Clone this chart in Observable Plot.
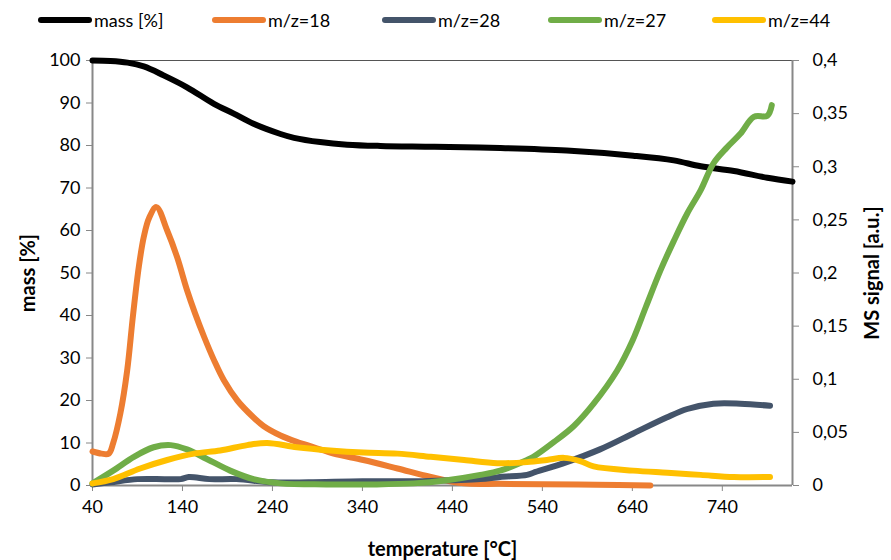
<!DOCTYPE html>
<html>
<head>
<meta charset="utf-8">
<script src="https://cdn.jsdelivr.net/npm/d3@7"></script>
<script src="https://cdn.jsdelivr.net/npm/@observablehq/plot@0.6"></script>
<style>
  body { margin: 0; background: #fff; font-family: Lato, "Open Sans", sans-serif; }
  #legend { height: 40px; display: flex; align-items: center; padding-left: 38px; font-size: 18px; color: #000; }
  #legend .item { display: flex; align-items: center; }
  #legend .sw { display: inline-block; width: 54px; height: 6px; border-radius: 3px; margin-right: 2px; }
  svg g[aria-label$="-axis label"] text { font-weight: bold; font-size: 20px; }
</style>
</head>
<body>
<div id="legend"></div>
<div id="chart"></div>
<script>
const seriesNames = ["mass [%]", "m/z=18", "m/z=28", "m/z=27", "m/z=44"];
const seriesColors = ["#000000", "#ED7D31", "#44546A", "#70AD47", "#FFC000"];

const xTicks = [40, 140, 240, 340, 440, 540, 640, 740];
const massTicks = [0, 10, 20, 30, 40, 50, 60, 70, 80, 90, 100];
const msTicks = [0, 0.05, 0.1, 0.15, 0.2, 0.25, 0.3, 0.35, 0.4];

// mass [%] (left axis)
const massT = [40, 60, 79, 97, 119, 145, 175, 197, 219, 249, 264, 293, 323, 360, 420, 493, 567, 641, 686, 716, 753, 790, 818];
const massV = [100, 99.9, 99.5, 98.6, 96.5, 93.7, 89.8, 87.5, 85.1, 82.7, 81.8, 80.8, 80.2, 79.9, 79.7, 79.4, 78.8, 77.6, 76.5, 75.1, 74.0, 72.4, 71.5];

// MS signals [a.u.] (right axis)
const mz18T = [40, 50, 58, 63, 71, 78.5, 85, 91.5, 97, 103, 111, 123, 134, 145, 154, 164, 175, 186, 201, 219, 230, 249, 267, 286, 308, 341, 379, 416, 453, 493, 540, 600, 660];
const mz18V = [0.032, 0.030, 0.030, 0.040, 0.068, 0.108, 0.160, 0.206, 0.234, 0.252, 0.262, 0.240, 0.215, 0.184, 0.162, 0.140, 0.118, 0.099, 0.080, 0.064, 0.056, 0.047, 0.041, 0.036, 0.030, 0.024, 0.016, 0.008, 0.002, 0.0016, 0.0012, 0.0008, 0];

const mz28T = [40, 60, 90, 120, 138, 147, 170, 200, 240, 280, 340, 400, 440, 471, 493, 523, 530, 567, 604, 641, 678, 701, 730, 760, 793];
const mz28V = [0.001, 0.003, 0.006, 0.006, 0.006, 0.008, 0.006, 0.006, 0.003, 0.003, 0.004, 0.004, 0.005, 0.006, 0.008, 0.010, 0.012, 0.022, 0.034, 0.049, 0.064, 0.072, 0.077, 0.077, 0.075];

const mz27T = [40, 63, 86, 108, 127, 145, 167, 193, 219, 249, 300, 350, 397, 434, 471, 493, 523, 530, 553, 575, 597, 623, 640, 655, 671, 686, 701, 716, 730, 745, 760, 775, 790, 795];
const mz27V = [0.002, 0.014, 0.027, 0.036, 0.038, 0.034, 0.025, 0.014, 0.006, 0.002, 0.001, 0.001, 0.002, 0.005, 0.010, 0.014, 0.024, 0.027, 0.041, 0.056, 0.077, 0.108, 0.136, 0.168, 0.202, 0.230, 0.256, 0.278, 0.303, 0.318, 0.331, 0.347, 0.348, 0.358];

const mz44T = [40, 63, 93, 123, 153, 182, 212, 234, 267, 304, 341, 379, 416, 453, 490, 523, 545, 564, 582, 597, 641, 679, 716, 753, 793];
const mz44V = [0.002, 0.006, 0.016, 0.024, 0.030, 0.033, 0.038, 0.040, 0.036, 0.033, 0.031, 0.030, 0.027, 0.024, 0.021, 0.022, 0.024, 0.026, 0.023, 0.018, 0.014, 0.012, 0.010, 0.008, 0.008];

const msFactor = 100 / 0.4; // right axis -> left axis units

const rows = [];
const add = (name, T, V, f) => T.forEach((t, i) => rows.push({series: name, t, v: V[i] * f}));
add(seriesNames[0], massT, massV, 1);
add(seriesNames[1], mz18T, mz18V, msFactor);
add(seriesNames[2], mz28T, mz28V, msFactor);
add(seriesNames[3], mz27T, mz27V, msFactor);
add(seriesNames[4], mz44T, mz44V, msFactor);

// legend
const legend = document.getElementById("legend");
const widths = [174, 170, 166, 164, 120];
seriesNames.forEach((n, i) => {
  const it = document.createElement("div");
  it.className = "item";
  it.style.width = widths[i] + "px";
  it.innerHTML = `<span class="sw" style="background:${seriesColors[i]}"></span><span>${n}</span>`;
  legend.appendChild(it);
});

const fmt = d => String(+(d / msFactor).toFixed(2)).replace(".", ",");

const lineMarks = seriesNames.map((n, i) =>
  Plot.line(rows.filter(r => r.series === n), {
    x: "t", y: "v", stroke: seriesColors[i], strokeWidth: 6,
    curve: "catmull-rom", strokeLinejoin: "round", strokeLinecap: "round"
  })
);

const chart = Plot.plot({
  width: 891,
  height: 520,
  marginTop: 20,
  marginBottom: 75,
  marginLeft: 92,
  marginRight: 99,
  x: {domain: [40, 818]},
  y: {domain: [0, 100]},
  style: {fontFamily: "Lato, 'Open Sans', sans-serif", fontSize: "18px", color: "#000", background: "#fff", overflow: "visible"},
  marks: [
    Plot.ruleY([100], {stroke: "#555", strokeWidth: 1}),
    Plot.ruleY([0], {stroke: "#888", strokeWidth: 2}),
    Plot.ruleX([40, 818], {stroke: "#888", strokeWidth: 2}),
    Plot.axisX({ticks: xTicks, tickSize: 6, tickPadding: 9, stroke: "#888", tickFormat: d => String(d),
      label: "temperature [°C]", labelAnchor: "center", labelOffset: 70, labelArrow: "none"}),
    Plot.axisY({ticks: massTicks, tickSize: 6, tickPadding: 6, stroke: "#888", tickFormat: d => String(d),
      label: "mass [%]", labelAnchor: "center", labelOffset: 72, labelArrow: "none"}),
    Plot.axisY({anchor: "right", ticks: msTicks.map(v => v * msFactor), tickSize: 6, tickPadding: 14, stroke: "#888",
      tickFormat: fmt, label: "MS signal [a.u.]", labelAnchor: "center", labelOffset: 86, labelArrow: "none"}),
    ...lineMarks
  ]
});
document.getElementById("chart").appendChild(chart);
</script>
</body>
</html>
